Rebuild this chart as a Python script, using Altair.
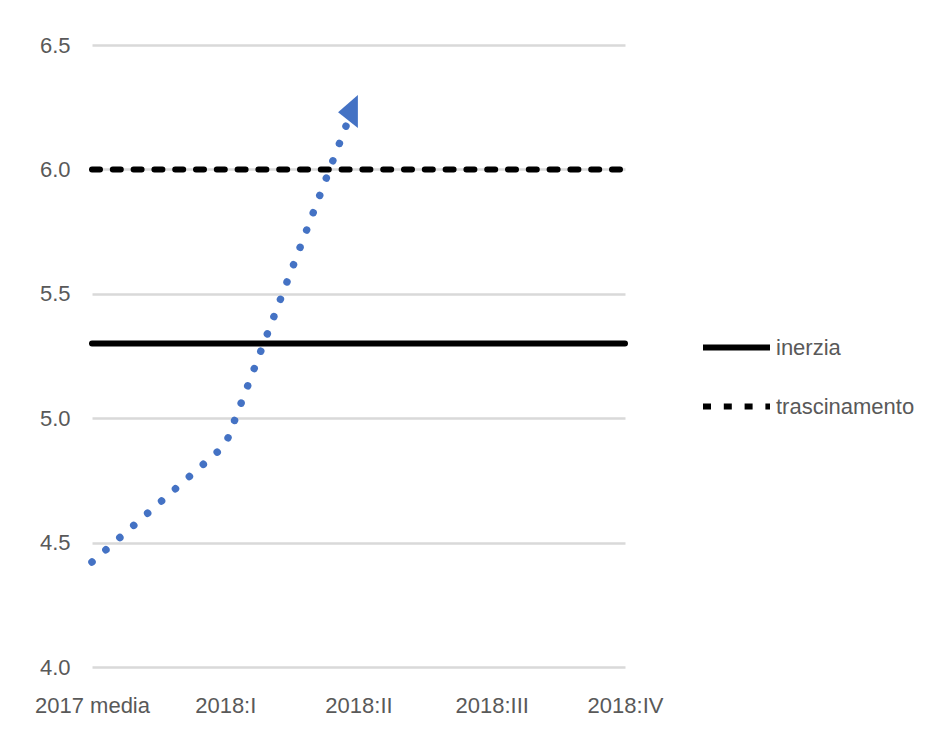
import altair as alt
import pandas as pd

# ---- data ----
categories = ["2017 media", "2018:I", "2018:II", "2018:III", "2018:IV"]
cat_pos = [0, 1, 2, 3, 4]
series_names = ["inerzia", "trascinamento"]
series_levels = [5.3, 6.0]
curve_x = [0.0, 1.0, 1.906]
curve_y = [4.422, 4.892, 6.174]
arrow_x = [1.921]
arrow_y = [6.233]
y_ticks = [4.0, 4.5, 5.0, 5.5, 6.0, 6.5]

FONT = "Liberation Sans Narrow, Liberation Sans, Arial, sans-serif"
FONT_SIZE = 22
LABEL_COLOR = "#595959"
BLUE = "#4472C4"

levels = pd.DataFrame(
    [{"x": cat_pos[0], "y": v, "serie": s} for s, v in zip(series_names, series_levels)]
    + [{"x": cat_pos[-1], "y": v, "serie": s} for s, v in zip(series_names, series_levels)]
)
curve = pd.DataFrame({"x": curve_x, "y": curve_y, "order": list(range(len(curve_x)))})
arrow = pd.DataFrame({"x": arrow_x, "y": arrow_y})

label_expr = "[" + ",".join("'" + c + "'" for c in categories) + "][datum.value]"

x_enc = alt.X(
    "x:Q",
    scale=alt.Scale(domain=[cat_pos[0], cat_pos[-1]], nice=False, zero=False),
    axis=alt.Axis(
        values=cat_pos, labelExpr=label_expr, title=None, grid=False, domain=False,
        ticks=False, labelFlush=False, labelOverlap=False, labelFont=FONT,
        labelFontSize=FONT_SIZE, labelColor=LABEL_COLOR, labelPadding=28,
    ),
)
y_enc = alt.Y(
    "y:Q",
    scale=alt.Scale(domain=[y_ticks[0], y_ticks[-1]], nice=False, zero=False),
    axis=alt.Axis(
        values=y_ticks, format=".1f", title=None, grid=True, gridColor="#d9d9d9",
        gridWidth=2.5, domain=False, ticks=False, labelFont=FONT,
        labelFontSize=FONT_SIZE, labelColor=LABEL_COLOR, labelPadding=22,
    ),
)

lines = alt.Chart(levels).mark_line(color="black", strokeWidth=6, strokeCap="round").encode(
    x=x_enc,
    y=y_enc,
    detail="serie:N",
    strokeDash=alt.StrokeDash(
        "serie:N",
        scale=alt.Scale(domain=series_names, range=[[1, 0], [8, 12.8]]),
        legend=alt.Legend(
            orient="none", legendX=608, legendY=266, title=None,
            symbolType="stroke", symbolSize=4489, symbolStrokeWidth=6,
            symbolStrokeColor="black", labelFont=FONT, labelFontSize=FONT_SIZE,
            labelColor=LABEL_COLOR, labelOffset=3, rowPadding=10,
        ),
    ),
)

dotted = alt.Chart(curve).mark_line(
    color=BLUE, strokeWidth=7.5, strokeCap="round", strokeDash=[0.01, 18.5]
).encode(x=x_enc, y=y_enc, order="order:Q")

head = alt.Chart(arrow).mark_point(
    shape="M 0.6,-1 L 0.6,1 L -0.6,0.05 Z", size=1089, filled=True,
    color=BLUE, opacity=1, strokeWidth=0,
).encode(x=x_enc, y=y_enc)

chart = (
    alt.layer(lines, dotted, head)
    .properties(
        width=533, height=622,
        autosize=alt.AutoSizeParams(type="none"),
        padding={"left": 92, "top": 45, "right": 302, "bottom": 74},
        background="white",
    )
    .configure_view(stroke=None)
)

chart.save("out.html", embed_options={"renderer": "svg", "actions": False})
